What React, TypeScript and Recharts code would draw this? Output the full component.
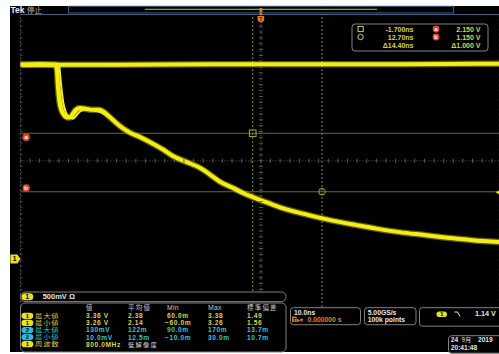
import React from 'react';
import {
  ComposedChart,
  Line,
  Scatter,
  XAxis,
  YAxis,
  CartesianGrid,
  ReferenceLine,
  ReferenceDot,
} from 'recharts';

// ---- Channel 1 acquisition (time in ns, amplitude in V) ----
const ch1Time = [
  -50, -46, -42.7, -42.4, -42.2, -41.9, -41.5, -41.0, -40.3, -39.7, -39.2, -38.5,
  -37.6, -36.5, -35.0, -33.6, -32.4, -31.2, -30.0, -28.8, -27.2, -25.0, -23.1,
  -20.5, -18.3, -15.5, -12.7, -10.5, -8.5, -5.9, -3.5, -1.7, 1.5, 4.5, 8.5, 12.6,
  16, 19.9, 24, 28.8, 34, 39.2, 44, 49.5,
];
const ch1Volts = [
  3.32, 3.33, 3.32, 3.22, 2.95, 2.7, 2.55, 2.47, 2.42, 2.42, 2.47, 2.55, 2.58,
  2.57, 2.55, 2.55, 2.5, 2.41, 2.32, 2.24, 2.16, 2.08, 2.0, 1.88, 1.76, 1.66,
  1.56, 1.44, 1.32, 1.22, 1.12, 1.06, 0.96, 0.87, 0.78, 0.7, 0.64, 0.58, 0.52,
  0.46, 0.41, 0.36, 0.32, 0.29,
];

// Sweeps that stayed high (persistence)
const highTime = [-50, -30, -10, 10, 30, 49.5];
const highVolts = [3.32, 3.32, 3.33, 3.33, 3.33, 3.34];

// Later sweeps overlapping on the falling edge (persistence)
const edgeSweepTime = [-42.3, -42.0, -41.6, -41.1, -40.4, -39.6, -38.9, -38.0, -36.8, -35.0, -33.2, -32.0];
const edgeSweepVolts = [3.3, 2.98, 2.7, 2.52, 2.44, 2.41, 2.46, 2.55, 2.57, 2.55, 2.53, 2.46];
const edgeSweep2Time = [-41.9, -41.5, -41.1, -40.6, -39.9, -39.1, -38.4, -37.5, -36.2, -34.6, -33.0, -31.6];
const edgeSweep2Volts = [3.3, 2.95, 2.68, 2.52, 2.43, 2.4, 2.45, 2.53, 2.56, 2.54, 2.5, 2.42];

// ---- Horizontal / vertical settings ----
const timeDomain: [number, number] = [-50, 49.5];
const voltDomain: [number, number] = [-0.82, 4.18];
const timeGrid = [-40, -30, -20, -10, 0, 10, 20, 30, 40];
const voltGrid = [3.68, 3.18, 2.68, 2.18, 1.68, 1.18, 0.68, 0.18, -0.32];
const centerVolt = 1.68;

// ---- Cursors and trigger ----
const cursorTimeA = -1.7;
const cursorTimeB = 12.7;
const cursorVoltA = 2.15;
const cursorVoltB = 1.15;
const triggerLevel = 1.14;

// ---- Readouts ----
const cursorRows = [
  { icon: 'square', time: '-1.700ns', tag: 'a', volt: '2.150 V' },
  { icon: 'circle', time: '12.70ns', tag: 'b', volt: '1.150 V' },
  { icon: '', time: 'Δ14.40ns', tag: '', volt: 'Δ1.000 V' },
];
const tableHeader = ['値', '平均値', 'Min', 'Max', '標準偏差'];
const tableRows = [
  { ch: '1', name: '最大値', cells: ['3.36 V', '2.38', '60.0m', '3.38', '1.49'] },
  { ch: '1', name: '最小値', cells: ['3.26 V', '2.14', '−60.0m', '3.26', '1.56'] },
  { ch: '2', name: '最大値', cells: ['130mV', '122m', '90.0m', '170m', '13.7m'] },
  { ch: '2', name: '最小値', cells: ['10.0mV', '12.5m', '−10.0m', '30.0m', '10.7m'] },
  { ch: '1', name: '周波数', cells: ['800.0MHz', '低解像度'] },
];

const ch1Data = ch1Time.map((t, i) => ({ t, v: ch1Volts[i] }));
const highData = highTime.map((t, i) => ({ t, v: highVolts[i] }));
const sweepData = edgeSweepTime.map((t, i) => ({ t, v: edgeSweepVolts[i] }));
const sweep2Data = edgeSweep2Time.map((t, i) => ({ t, v: edgeSweep2Volts[i] }));

// graticule minor marks: 5 per division
const hMinor = Array.from({ length: 50 }, (_, i) => ({ t: -50 + i * 2, v: centerVolt }));
const vMinor = Array.from({ length: 50 }, (_, i) => ({ t: 0, v: -0.82 + i * 0.1 }));
const leftMinor = Array.from({ length: 50 }, (_, i) => ({ t: -50, v: -0.82 + i * 0.1 }));

const YELLOW = '#f4ee16';
const TXT_Y = '#ddd44a';
const TXT_C = '#33c6d8';
const ORANGE = '#e24b1c';
const BOX = '#808080';
const MONO = '"Liberation Sans", Arial, sans-serif';
const CJK = '"Noto Sans CJK JP", sans-serif';
const hasCJK = (s: string) => /[\u3040-\u9fff]/.test(s);

const colX = [86, 128, 167, 208, 247];

export default function App() {
  const traceProps = { type: 'monotone' as const, dot: false, isAnimationActive: false, dataKey: 'v' };
  return (
    <div
      style={{
        position: 'fixed',
        left: 0,
        top: 0,
        width: 499,
        height: 354,
        background: '#ffffff',
        overflow: 'hidden',
      }}
    >
      <div style={{ position: 'absolute', left: 10, top: 6, width: 489, height: 346, background: '#000' }} />
      <div style={{ position: 'absolute', left: 0, top: 0 }}>
        <ComposedChart width={499} height={354} margin={{ top: 14.5, left: 20.4, right: 0, bottom: 47 }}>
          <XAxis
            type="number"
            dataKey="t"
            domain={timeDomain}
            ticks={timeGrid}
            allowDataOverflow
            tick={false}
            tickLine={false}
            axisLine={false}
            height={0}
          />
          <YAxis
            type="number"
            dataKey="v"
            domain={voltDomain}
            ticks={voltGrid}
            allowDataOverflow
            tick={false}
            tickLine={false}
            axisLine={false}
            width={0}
          />
          <CartesianGrid stroke="#3b3b3b" strokeDasharray="1 4" />
          <ReferenceLine x={-50} stroke="#4a4a4a" strokeDasharray="2 2" />
          <ReferenceLine y={4.18} stroke="#3f5d7c" />
          <ReferenceLine y={centerVolt} stroke="#555" strokeDasharray="1 2" />
          <ReferenceLine x={0} stroke="#555" strokeDasharray="1 2" />
          <Scatter
            data={hMinor}
            dataKey="v"
            isAnimationActive={false}
            shape={(p: any) => <line x1={p.cx} x2={p.cx} y1={p.cy - 2} y2={p.cy + 2} stroke="#5a5a5a" />}
          />
          <Scatter
            data={vMinor}
            dataKey="v"
            isAnimationActive={false}
            shape={(p: any) => <line x1={p.cx - 2} x2={p.cx + 2} y1={p.cy} y2={p.cy} stroke="#5a5a5a" />}
          />
          <Scatter
            data={leftMinor}
            dataKey="v"
            isAnimationActive={false}
            shape={(p: any) => <line x1={p.cx} x2={p.cx + 2} y1={p.cy} y2={p.cy} stroke="#4a4a4a" />}
          />
          {/* cursors */}
          <ReferenceLine y={cursorVoltA} stroke="#6f6b1f" />
          <ReferenceLine y={cursorVoltB} stroke="#6f6b1f" />
          <ReferenceLine x={cursorTimeA} stroke="#8d882a" strokeDasharray="2 2" />
          <ReferenceLine x={cursorTimeB} stroke="#8d882a" strokeDasharray="2 2" />
          {/* channel 1 traces: soft fringe, then core */}
          <Line {...traceProps} data={highData} stroke="#cfc70e" strokeOpacity={0.45} strokeWidth={6.5} />
          <Line {...traceProps} data={ch1Data} stroke="#cfc70e" strokeOpacity={0.45} strokeWidth={6.5} />
          <Line {...traceProps} data={sweepData} stroke={YELLOW} strokeWidth={2} />
          <Line {...traceProps} data={sweep2Data} stroke={YELLOW} strokeWidth={2} />
          <Line {...traceProps} data={highData} stroke={YELLOW} strokeWidth={4} />
          <Line {...traceProps} data={ch1Data} stroke={YELLOW} strokeWidth={4} />
          {/* cursor handles */}
          <ReferenceDot
            x={cursorTimeA}
            y={cursorVoltA}
            ifOverflow="visible"
            shape={(p: any) => (
              <rect x={p.cx - 3.3} y={p.cy - 3.3} width={6.6} height={6.6} fill="none" stroke="#a8a236" />
            )}
          />
          <ReferenceDot
            x={cursorTimeB}
            y={cursorVoltB}
            ifOverflow="visible"
            shape={(p: any) => <circle cx={p.cx} cy={p.cy} r={3.3} fill="none" stroke="#a8a236" />}
          />
          <ReferenceDot
            x={-48.8}
            y={cursorVoltA}
            ifOverflow="visible"
            shape={(p: any) => (
              <g>
                <circle cx={p.cx} cy={p.cy + 4} r={3.7} fill={ORANGE} />
                <text x={p.cx} y={p.cy + 6} textAnchor="middle" fontSize={6} fontWeight="bold" fill="#fff" fontFamily={MONO}>
                  a
                </text>
              </g>
            )}
          />
          <ReferenceDot
            x={-48.8}
            y={cursorVoltB}
            ifOverflow="visible"
            shape={(p: any) => (
              <g>
                <circle cx={p.cx} cy={p.cy - 3.8} r={3.7} fill={ORANGE} />
                <text x={p.cx} y={p.cy - 1.8} textAnchor="middle" fontSize={6} fontWeight="bold" fill="#fff" fontFamily={MONO}>
                  b
                </text>
              </g>
            )}
          />
          {/* ground reference marker */}
          <ReferenceDot
            x={-50}
            y={0}
            ifOverflow="visible"
            shape={(p: any) => (
              <g>
                <path
                  d={`M${p.cx - 10} ${p.cy - 4.5} L${p.cx - 3} ${p.cy - 4.5} L${p.cx} ${p.cy} L${p.cx - 3} ${p.cy + 4.5} L${p.cx - 10} ${p.cy + 4.5} Z`}
                  fill="#e8e020"
                />
                <text x={p.cx - 5.8} y={p.cy + 2.3} textAnchor="middle" fontSize={6.5} fontWeight="bold" fill="#000" fontFamily={MONO}>
                  1
                </text>
              </g>
            )}
          />
          {/* trigger level marker */}
          <ReferenceDot
            x={49.5}
            y={triggerLevel}
            ifOverflow="visible"
            shape={(p: any) => (
              <path d={`M${p.cx - 3.5} ${p.cy} L${p.cx + 1} ${p.cy - 2.5} L${p.cx + 1} ${p.cy + 2.5} Z`} fill="#e8e020" />
            )}
          />
          {/* trigger position marker */}
          <ReferenceDot
            x={0}
            y={4.18}
            ifOverflow="visible"
            shape={(p: any) => (
              <g>
                <rect x={p.cx - 1.5} y={p.cy - 6.5} width={3} height={7} fill="#d8801c" />
                <path
                  d={`M${p.cx - 3.3} ${p.cy + 1.5} L${p.cx + 3.3} ${p.cy + 1.5} L${p.cx + 3.3} ${p.cy + 6} L${p.cx} ${p.cy + 8.5} L${p.cx - 3.3} ${p.cy + 6} Z`}
                  fill="#e07a1a"
                />
                <text x={p.cx} y={p.cy + 6.6} textAnchor="middle" fontSize={5} fontWeight="bold" fill="#3a1c00" fontFamily={MONO}>
                  T
                </text>
              </g>
            )}
          />
        </ComposedChart>
      </div>

      {/* instrument chrome */}
      <svg
        width={499}
        height={354}
        style={{ position: 'absolute', left: 0, top: 0, pointerEvents: 'none' }}
      >
        <text x={10.5} y={12.6} fontSize={8.5} fontWeight="bold" fill="#f0f0f0" fontFamily={MONO}>
          Tek
        </text>
        <text x={27} y={12.6} fontSize={7.5} fill="#b8b8b8" fontFamily={CJK}>
          停止
        </text>
        {/* record view */}
        <rect x={68.5} y={6.3} width={385} height={6.6} fill="none" stroke="#3e5d7e" />
        <line x1={145} x2={377} y1={9.4} y2={9.4} stroke="#9e9822" strokeWidth={1.4} />

        {/* cursor readout */}
        <rect x={352} y={24} width={136} height={27} rx={3} fill="#000" stroke={BOX} />
        {cursorRows.map((r, i) => {
          const cy = 29 + i * 8;
          return (
            <g key={i}>
              {r.icon === 'square' && (
                <rect x={358} y={cy - 2.6} width={5.2} height={5.2} fill="none" stroke="#cfc77a" />
              )}
              {r.icon === 'circle' && <circle cx={360.6} cy={cy} r={2.7} fill="none" stroke="#cfc77a" />}
              <text x={413.5} y={cy + 2.6} textAnchor="end" fontSize={7} fontWeight="bold" fill={TXT_Y} fontFamily={MONO}>
                {r.time}
              </text>
              {r.tag && (
                <g>
                  <circle cx={436} cy={cy} r={3.4} fill={ORANGE} />
                  <text x={436} y={cy + 2} textAnchor="middle" fontSize={5.6} fontWeight="bold" fill="#fff" fontFamily={MONO}>
                    {r.tag}
                  </text>
                </g>
              )}
              <text x={480.5} y={cy + 2.6} textAnchor="end" fontSize={7} fontWeight="bold" fill={TXT_Y} fontFamily={MONO}>
                {r.volt}
              </text>
            </g>
          );
        })}

        {/* channel badge */}
        <rect x={20.5} y={292} width={265.5} height={9.6} rx={4.5} fill="#000" stroke={BOX} />
        <rect x={21.5} y={293.3} width={11.8} height={7} rx={3.5} fill="#e8e020" />
        <text x={27.4} y={299.1} textAnchor="middle" fontSize={6.5} fontWeight="bold" fill="#000" fontFamily={MONO}>
          1
        </text>
        <text x={42.7} y={299.4} fontSize={7.5} fontWeight="bold" fill="#e6e6e6" fontFamily={MONO}>
          500mV Ω
        </text>

        {/* measurements */}
        <rect x={20.5} y={303} width={265.5} height={49} rx={4.5} fill="#000" stroke={BOX} />
        {tableHeader.map((h, i) => (
          <text
            key={h}
            x={colX[i]}
            y={310.2}
            fontSize={hasCJK(h) ? 6.4 : 6.8}
            letterSpacing={hasCJK(h) ? 1.3 : 0.3}
            fill="#c6c6c6"
            fontFamily={hasCJK(h) ? CJK : MONO}
          >
            {h}
          </text>
        ))}
        {tableRows.map((r, i) => {
          const cy = 315.8 + i * 7.1;
          const isC = r.ch === '2';
          const fg = isC ? TXT_C : TXT_Y;
          return (
            <g key={i}>
              <rect x={21.5} y={cy - 3.1} width={11.8} height={6.2} rx={3.1} fill={isC ? '#22c2d6' : '#e8e020'} />
              <text x={27.4} y={cy + 2} textAnchor="middle" fontSize={5.8} fontWeight="bold" fill="#000" fontFamily={MONO}>
                {r.ch}
              </text>
              <text
                transform={`translate(35 ${cy + 2.2}) scale(1.3 1)`}
                fontSize={5.6}
                letterSpacing={0.7}
                fill={fg}
                fontFamily={CJK}
              >
                {r.name}
              </text>
              {r.cells.map((c, j) => (
                <text
                  key={j}
                  x={colX[j] - (c.startsWith('−') ? 2 : 0)}
                  y={cy + 2.4}
                  fontSize={hasCJK(c) ? 6.2 : 6.6}
                  fontWeight={hasCJK(c) ? 'normal' : 'bold'}
                  letterSpacing={hasCJK(c) ? 1.3 : 0.6}
                  fill={j === 1 && r.name === '周波数' ? '#d8d8d8' : fg}
                  fontFamily={hasCJK(c) ? CJK : MONO}
                >
                  {c}
                </text>
              ))}
            </g>
          );
        })}

        {/* timebase */}
        <rect x={290.5} y={307.7} width={70} height={17} rx={3} fill="#000" stroke={BOX} />
        <text x={294} y={315.3} fontSize={6.8} fontWeight="bold" fill="#e6e6e6" fontFamily={MONO}>
          10.0ns
        </text>
        <rect x={292} y={316.6} width={4.6} height={5.4} fill="#e07a1a" />
        <text x={294.3} y={321.5} textAnchor="middle" fontSize={5} fontWeight="bold" fill="#000" fontFamily={MONO}>
          T
        </text>
        <text x={297} y={322} fontSize={6} fontWeight="bold" fill="#e0801c" fontFamily={MONO}>
          ▸▾
        </text>
        <text x={307.5} y={322} fontSize={6.8} fontWeight="bold" fill="#e0801c" fontFamily={MONO}>
          0.000000 s
        </text>

        {/* acquisition */}
        <rect x={364.5} y={307.7} width={51.5} height={17} rx={3} fill="#000" stroke={BOX} />
        <text x={367.7} y={315.3} fontSize={6.8} fontWeight="bold" fill="#e6e6e6" fontFamily={MONO}>
          5.00GS/s
        </text>
        <text x={367.7} y={322.2} fontSize={6.8} fontWeight="bold" fill="#e6e6e6" fontFamily={MONO}>
          100k points
        </text>

        {/* trigger */}
        <rect x={419.5} y={307.7} width={90} height={18.5} rx={3} fill="#000" stroke={BOX} />
        <rect x={436.5} y={311.4} width={10.5} height={5.6} rx={2.8} fill="#e8e020" />
        <text x={441.8} y={316.2} textAnchor="middle" fontSize={5.6} fontWeight="bold" fill="#000" fontFamily={MONO}>
          1
        </text>
        <polyline points="454.5,312 457.5,312 460,316.4" fill="none" stroke="#e6e6e6" strokeWidth={1} />
        <text x={475} y={316.4} fontSize={7.2} fontWeight="bold" fill="#e6e6e6" fontFamily={MONO}>
          1.14 V
        </text>

        {/* date */}
        <rect x={448.5} y={335.7} width={60} height={17.5} rx={3} fill="#000" stroke={BOX} />
        <text x={450.8} y={342.3} fontSize={6.6} fontWeight="bold" fill="#e6e6e6" fontFamily={MONO}>
          24
        </text>
        <text x={461.5} y={342.3} fontSize={6.2} fill="#e6e6e6" fontFamily={CJK}>
          9月
        </text>
        <text x={478} y={342.3} fontSize={6.6} fontWeight="bold" fill="#e6e6e6" fontFamily={MONO}>
          2019
        </text>
        <text x={450.8} y={349.8} fontSize={6.6} fontWeight="bold" fill="#e6e6e6" fontFamily={MONO}>
          20:41:48
        </text>
      </svg>
    </div>
  );
}
